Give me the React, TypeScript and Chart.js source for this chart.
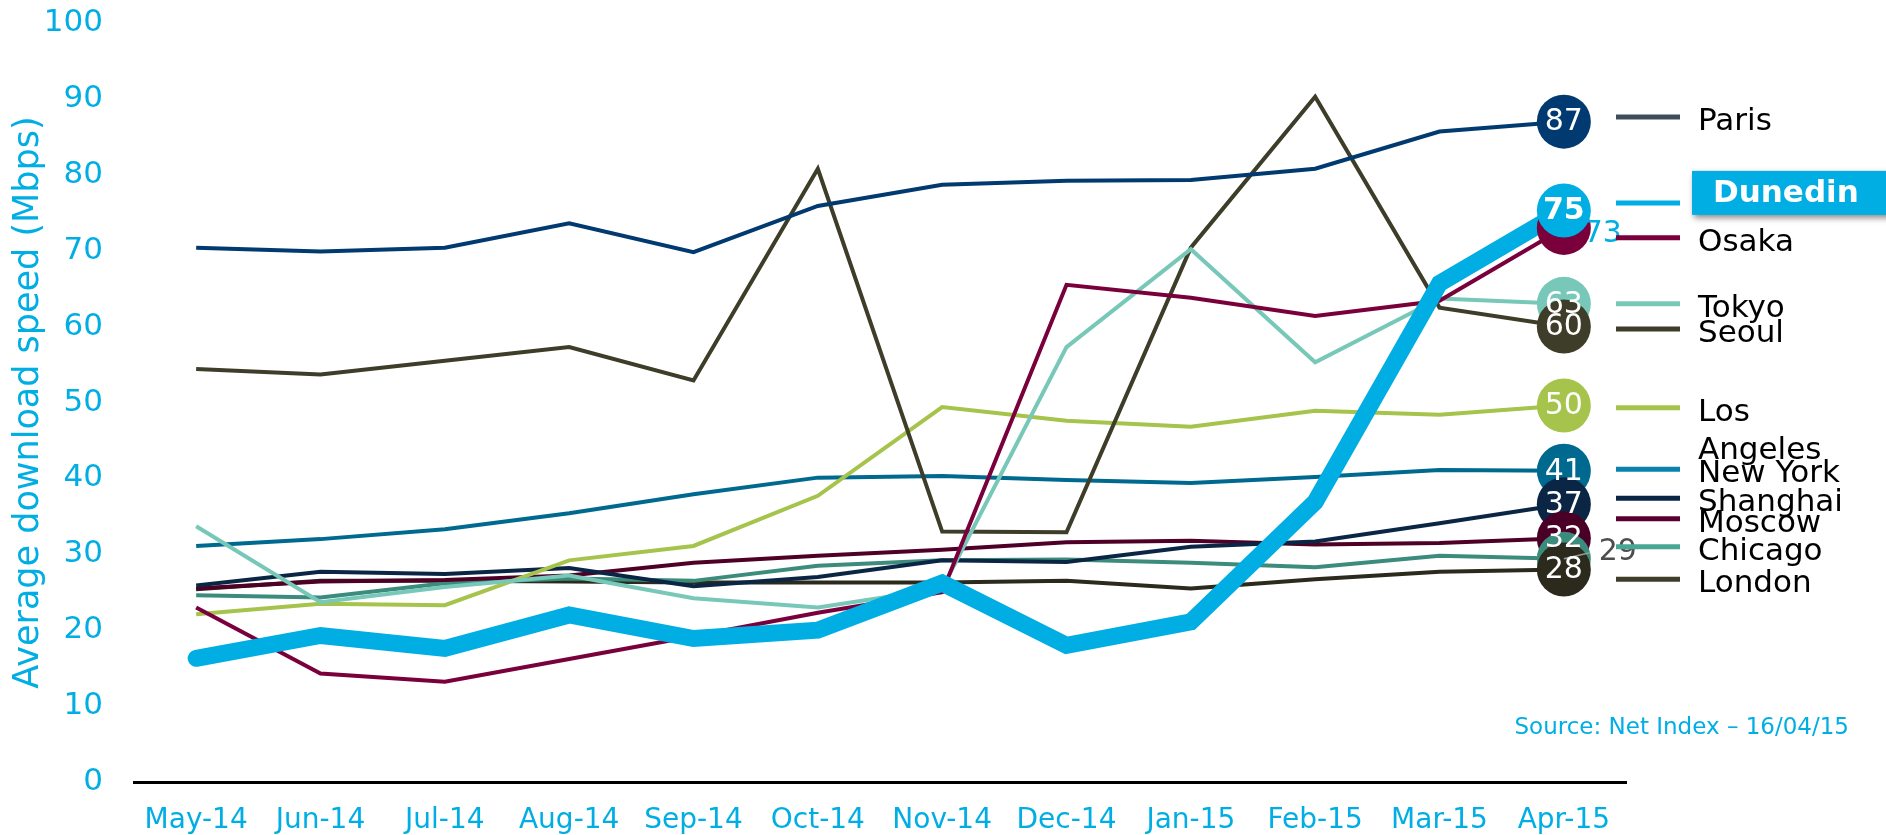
import React, { useEffect, useRef } from 'react';
import { Chart, registerables } from 'chart.js';

Chart.register(...registerables);

const FONT = '"DejaVu Sans", Verdana, sans-serif';
const CYAN = '#00aee4';

const months = ['May-14', 'Jun-14', 'Jul-14', 'Aug-14', 'Sep-14', 'Oct-14', 'Nov-14', 'Dec-14', 'Jan-15', 'Feb-15', 'Mar-15', 'Apr-15'];

const paris = [70.4, 69.9, 70.4, 73.6, 69.8, 75.9, 78.7, 79.2, 79.3, 80.8, 85.7, 87.0];
const dunedin = [16.3, 19.3, 17.6, 22.0, 18.9, 20.0, 26.2, 18.0, 21.1, 36.9, 65.7, 75.3];
const osaka = [23.0, 14.3, 13.2, 16.2, 19.2, 22.3, 25.0, 65.5, 63.8, 61.4, 63.4, 73.0];
const tokyo = [33.7, 23.7, 25.7, 27.2, 24.2, 23.0, 25.5, 57.3, 70.2, 55.3, 63.7, 63.0];
const seoul = [54.4, 53.7, 55.5, 57.3, 52.9, 80.8, 33.0, 32.9, 70.4, 90.3, 62.5, 60.0];
const losAngeles = [22.1, 23.5, 23.3, 29.2, 31.1, 37.7, 49.4, 47.6, 46.8, 48.9, 48.4, 49.6];
const newYork = [31.1, 32.0, 33.3, 35.4, 37.9, 40.1, 40.3, 39.8, 39.4, 40.2, 41.1, 41.0];
const shanghai = [25.9, 27.7, 27.4, 28.2, 25.8, 27.0, 29.2, 29.0, 31.0, 31.7, 34.1, 36.6];
const moscow = [25.5, 26.4, 26.6, 27.2, 28.9, 29.8, 30.6, 31.6, 31.8, 31.3, 31.5, 32.1];
const chicago = [24.6, 24.3, 26.2, 26.8, 26.5, 28.5, 29.2, 29.3, 28.9, 28.3, 29.8, 29.4];
const london = [25.4, 26.5, 26.5, 26.4, 26.3, 26.3, 26.3, 26.5, 25.5, 26.7, 27.7, 28.0];

const yTitle = 'Average download speed (Mbps)';
const sourceNote = 'Source: Net Index \u2013 16/04/15';

// dataset order: first = drawn on top
const series = [
  { name: 'Dunedin', data: dunedin },
  { name: 'Paris', data: paris },
  { name: 'Osaka', data: osaka },
  { name: 'Tokyo', data: tokyo },
  { name: 'Seoul', data: seoul },
  { name: 'Los Angeles', data: losAngeles },
  { name: 'New York', data: newYork },
  { name: 'Shanghai', data: shanghai },
  { name: 'Moscow', data: moscow },
  { name: 'Chicago', data: chicago },
  { name: 'London', data: london },
];

const styles: Record<string, any> = {
  Dunedin: { color: '#00aee4', width: 17, circle: '#00aee4', legend: '#00aee4', legendAt: 76.3 },
  Paris: { color: '#003a70', width: 4, circle: '#003a70', legend: '#3d4d5c', legendAt: 87.6 },
  Osaka: { color: '#7a003c', width: 4, circle: '#7a003c', legend: '#7a003c', legendAt: 71.7 },
  Tokyo: { color: '#78c8b9', width: 4, circle: '#78c8b9', legend: '#78c8b9', legendAt: 63.0 },
  Seoul: { color: '#3d3d29', width: 4, circle: '#3d3d29', legend: '#3d3d29', legendAt: 59.7 },
  'Los Angeles': { color: '#a6c34c', width: 4, circle: '#a6c34c', legend: '#a6c34c', legendAt: 49.3 },
  'New York': { color: '#00698f', width: 4, circle: '#00698f', legend: '#0a82aa', legendAt: 41.2 },
  Shanghai: { color: '#0b2644', width: 4, circle: '#0b2644', legend: '#0b2644', legendAt: 37.4 },
  Moscow: { color: '#4e0026', width: 4, circle: '#4a0026', legend: '#5a0030', legendAt: 34.7 },
  Chicago: { color: '#3b8c7c', width: 4, circle: '#3b8c7c', legend: '#48a793', legendAt: 31.0 },
  London: { color: '#2b2a1d', width: 4, circle: '#2b2a1d', legend: '#3d3d29', legendAt: 26.7 },
};

const circleOrder = ['Paris', 'Tokyo', 'Seoul', 'Los Angeles', 'New York', 'Shanghai', 'Moscow', 'Chicago', 'London', 'Osaka', 'Dunedin'];

const endPlugin = {
  id: 'endCircles',
  afterDatasetsDraw(chart: any) {
    const ctx = chart.ctx;
    const R = 27;
    const pts: Record<string, { x: number; y: number; v: number }> = {};
    series.forEach((s, i) => {
      const meta = chart.getDatasetMeta(i);
      const p = meta.data[meta.data.length - 1];
      pts[s.name] = { x: p.x, y: p.y, v: s.data[s.data.length - 1] };
    });
    ctx.save();
    for (const name of circleOrder) {
      const p = pts[name];
      ctx.beginPath();
      ctx.arc(p.x, p.y, R, 0, Math.PI * 2);
      ctx.fillStyle = styles[name].circle;
      ctx.fill();
    }
    ctx.textAlign = 'center';
    ctx.textBaseline = 'middle';
    for (const name of circleOrder) {
      const p = pts[name];
      const txt = String(Math.round(p.v));
      if (name === 'Osaka') {
        ctx.font = `30px ${FONT}`;
        ctx.fillStyle = CYAN;
        ctx.fillText(txt, p.x + 39, p.y + 6);
      } else if (name === 'Chicago') {
        ctx.strokeStyle = '#9a9a9a';
        ctx.lineWidth = 1.5;
        ctx.beginPath();
        ctx.moveTo(p.x, p.y);
        ctx.lineTo(p.x + 26, p.y - 6);
        ctx.stroke();
        ctx.font = `30px ${FONT}`;
        ctx.fillStyle = '#4d4d4d';
        ctx.fillText(txt, p.x + 54, p.y - 7);
      } else {
        ctx.font = name === 'Dunedin' ? `bold 30px ${FONT}` : `30px ${FONT}`;
        ctx.fillStyle = '#ffffff';
        ctx.fillText(txt, p.x, p.y + 1);
      }
    }
    ctx.restore();
  },
  afterDraw(chart: any) {
    const ctx = chart.ctx;
    const y = chart.scales.y;
    const x0 = 1616;
    const x1 = 1680;
    const tx = 1698;
    ctx.save();
    for (const s of series) {
      const st = styles[s.name];
      const ly = y.getPixelForValue(st.legendAt);
      ctx.strokeStyle = st.legend;
      ctx.lineWidth = 5;
      ctx.beginPath();
      ctx.moveTo(x0, ly);
      ctx.lineTo(x1, ly);
      ctx.stroke();
      ctx.textAlign = 'left';
      ctx.textBaseline = 'middle';
      if (s.name === 'Dunedin') {
        ctx.save();
        ctx.shadowColor = 'rgba(0,0,0,0.45)';
        ctx.shadowBlur = 6;
        ctx.shadowOffsetX = 2;
        ctx.shadowOffsetY = 3;
        ctx.fillStyle = CYAN;
        ctx.fillRect(1692, ly - 32, 200, 44);
        ctx.restore();
        ctx.font = `bold 31px ${FONT}`;
        ctx.fillStyle = '#ffffff';
        ctx.fillText('Dunedin', 1713, ly - 9);
      } else if (s.name === 'Los Angeles') {
        ctx.font = `31px ${FONT}`;
        ctx.fillStyle = '#000000';
        ctx.fillText('Los', tx, ly + 5);
        ctx.fillText('Angeles', tx, ly + 43);
      } else {
        ctx.font = `31px ${FONT}`;
        ctx.fillStyle = '#000000';
        ctx.fillText(s.name, tx, ly + 5);
      }
    }
    ctx.font = `23px ${FONT}`;
    ctx.fillStyle = CYAN;
    ctx.textAlign = 'right';
    ctx.textBaseline = 'middle';
    ctx.fillText(sourceNote, 1849, 728);
    ctx.restore();
  },
};

export default function App() {
  const ref = useRef<HTMLCanvasElement | null>(null);
  useEffect(() => {
    document.body.style.margin = '0';
    const canvas = ref.current;
    if (!canvas) return;
    const chart = new Chart(canvas, {
      type: 'line',
      data: {
        labels: months,
        datasets: series.map((s) => ({
          label: s.name,
          data: s.data,
          borderColor: styles[s.name].color,
          backgroundColor: styles[s.name].color,
          borderWidth: styles[s.name].width,
          borderCapStyle: s.name === 'Dunedin' ? 'round' : 'butt',
          borderJoinStyle: 'miter',
          pointRadius: 0,
          pointHoverRadius: 0,
          tension: 0,
          fill: false,
        })),
      },
      options: {
        responsive: false,
        animation: false,
        events: [],
        layout: { padding: { top: 23, right: 260, bottom: 0, left: 0 } },
        plugins: {
          legend: { display: false },
          tooltip: { enabled: false },
          title: { display: false },
        },
        scales: {
          x: {
            type: 'category',
            offset: true,
            grid: { display: false, drawTicks: true, tickLength: 22 },
            border: { display: true, color: '#000000', width: 3 },
            ticks: {
              color: CYAN,
              font: { family: FONT, size: 28 },
              padding: 0,
              maxRotation: 0,
              autoSkip: false,
            },
            afterFit: (scale: any) => {
              scale.height = 53;
            },
          },
          y: {
            min: 0,
            max: 100,
            grid: { display: false, drawTicks: true, tickLength: 31 },
            border: { display: false },
            ticks: {
              stepSize: 10,
              color: CYAN,
              font: { family: FONT, size: 31 },
              padding: 0,
            },
            title: {
              display: true,
              text: yTitle,
              color: CYAN,
              font: { family: FONT, size: 35 },
              padding: { top: 8, bottom: 0 },
            },
            afterFit: (scale: any) => {
              scale.width = 134;
            },
          },
        },
      },
      plugins: [endPlugin],
    } as any);
    return () => chart.destroy();
  }, []);
  return (
    <div style={{ width: 1886, height: 835, background: '#ffffff' }}>
      <canvas ref={ref} width={1886} height={835} style={{ display: 'block' }} />
    </div>
  );
}
